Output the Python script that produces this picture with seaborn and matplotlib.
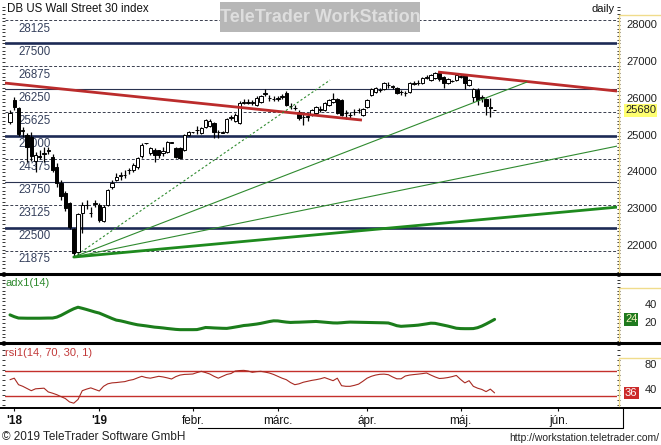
import numpy as np
import pandas as pd
import matplotlib
matplotlib.use("Agg")
import matplotlib.pyplot as plt
import matplotlib.transforms as mtransforms
from matplotlib.lines import Line2D
from matplotlib.patches import Rectangle
from matplotlib.ticker import MultipleLocator, FixedLocator
import seaborn as sns

# daily candles of the CFD (weekdays, closed on Christmas and New Year)
dates = pd.bdate_range("2018-11-30", "2019-05-13", freq="C", holidays=["2018-12-25", "2019-01-01"])
future = pd.bdate_range("2019-05-14", "2019-06-30")

opens = [25365, 25960, 25745, 25120, 25010, 24950, 24300, 24450, 24500, 24580,
         24410, 24150, 23700, 23430, 23160, 22460, 21850, 22890, 23100, 22900,
         23150, 23110, 22680, 23110, 23600, 23800, 23900, 23920, 24050, 24060,
         24140, 24440, 24790, 24520, 24600, 24600, 24520, 24550, 24810, 24660,
         24660, 24600, 25010, 25090, 25150, 25070, 25230, 25250, 25340, 25090,
         25080, 25090, 25480, 25400, 25340, 25880, 25890, 25880, 25830, 25900,
         26140, 26010, 25980, 26000, 26040, 26150, 25790, 25760, 25640, 25510,
         25510, 25555, 25610, 25700, 25690, 25830, 25900, 25990, 25960, 25600,
         25560, 25630, 25680, 25560, 25770, 26100, 26180, 26230, 26260, 26360,
         26320, 26290, 26170, 26150, 26180, 26410, 26420, 26420, 26570, 26500,
         26560, 26700, 26590, 26420, 26480, 26500, 26600, 26640, 26370, 26040,
         26230, 26030, 25990, 25750, 25690]
highs = [25700, 26040, 25780, 25220, 25080, 25100, 24550, 24600, 24700, 24700,
         24500, 24250, 23800, 23500, 23200, 22500, 22900, 23200, 23250, 23050,
         23250, 23180, 23100, 23560, 23780, 23990, 24000, 24050, 24120, 24250,
         24420, 24790, 24800, 24700, 24650, 24620, 24680, 24850, 24820, 24700,
         24680, 25050, 25120, 25100, 25250, 25240, 25460, 25450, 25360, 25150,
         25120, 25480, 25560, 25600, 25950, 25980, 25980, 25960, 26060, 26100,
         26250, 26100, 26060, 26080, 26120, 26200, 25880, 25820, 25680, 25580,
         25600, 25720, 25800, 25800, 25900, 26000, 26150, 26030, 26000, 25680,
         25640, 25720, 25760, 25760, 26000, 26290, 26320, 26300, 26460, 26450,
         26380, 26330, 26240, 26220, 26450, 26480, 26500, 26590, 26640, 26660,
         26730, 26730, 26620, 26560, 26510, 26660, 26680, 26660, 26530, 26300,
         26280, 26100, 26020, 26020, 25700]
lows = [25300, 25700, 25000, 24950, 24280, 24300, 24000, 24350, 24280, 24500,
        24000, 23600, 23250, 22950, 22450, 21700, 21750, 22350, 23000, 22800,
        23050, 22650, 22640, 23080, 23560, 23760, 23800, 23850, 23950, 24020,
        24100, 24400, 24780, 24480, 24280, 24400, 24450, 24520, 24800, 24380,
        24350, 24580, 24990, 25080, 25050, 25050, 25200, 25230, 24930, 24930,
        25060, 25060, 25430, 25380, 25300, 25850, 25850, 25830, 25800, 25880,
        26080, 25950, 25930, 25950, 25980, 25800, 25720, 25680, 25420, 25280,
        25400, 25520, 25580, 25640, 25660, 25800, 25880, 25580, 25520, 25450,
        25480, 25560, 25620, 25530, 25740, 26080, 26150, 26180, 26240, 26300,
        26250, 26120, 26100, 26060, 26160, 26360, 26380, 26400, 26530, 26480,
        26540, 26480, 26300, 26400, 26460, 26480, 26550, 26250, 26340, 25900,
        25830, 25900, 25555, 25500, 25680]
closes = [25610, 25780, 25040, 25160, 24690, 24450, 24470, 24410, 24530, 24610,
          24060, 23700, 23350, 23030, 22510, 21810, 22880, 23110, 23120, 22890,
          23160, 22700, 23060, 23520, 23710, 23880, 23920, 23930, 24060, 24200,
          24390, 24740, 24790, 24660, 24470, 24470, 24580, 24820, 24810, 24410,
          24390, 25010, 25090, 25090, 25160, 25200, 25420, 25400, 25090, 25100,
          25090, 25450, 25500, 25560, 25880, 25900, 25910, 25900, 26020, 26070,
          26150, 26020, 25990, 26020, 26060, 25830, 25800, 25745, 25475, 25500,
          25520, 25690, 25770, 25720, 25880, 25960, 25980, 25610, 25555, 25610,
          25555, 25640, 25690, 25720, 25960, 26260, 26290, 26240, 26420, 26370,
          26330, 26150, 26180, 26160, 26420, 26420, 26430, 26560, 26580, 26640,
          26700, 26530, 26420, 26530, 26490, 26640, 26610, 26420, 26500, 26260,
          25960, 26040, 25800, 25760, 25680]

adx = [29.0, 27.0, 25.5, 25.4, 25.3, 25.3, 25.3, 25.3, 25.4, 25.5,
       25.5, 26.5, 28.5, 31.0, 33.5, 35.8, 37.5, 36.3, 35.0, 33.6,
       32.2, 31.0, 29.0, 27.0, 25.0, 23.2, 22.4, 21.3, 20.1, 19.0,
       18.0, 17.4, 16.8, 16.1, 15.4, 15.0, 14.5, 13.9, 13.4, 12.9,
       12.6, 12.6, 12.6, 12.6, 12.7, 13.8, 15.0, 14.8, 14.5, 14.3,
       14.1, 14.0, 14.7, 15.5, 16.3, 17.2, 17.6, 18.2, 18.8, 19.6,
       20.6, 21.6, 22.4, 22.3, 21.6, 21.0, 20.6, 20.8, 20.9, 21.1,
       21.3, 21.5, 21.7, 21.3, 20.9, 20.5, 20.1, 20.0, 20.3, 20.7,
       21.0, 20.9, 20.8, 20.7, 20.6, 20.5, 20.4, 20.3, 20.2, 20.0,
       18.6, 17.0, 16.3, 16.6, 16.9, 17.2, 17.6, 18.3, 19.0, 19.8,
       19.6, 18.6, 17.6, 16.6, 15.4, 14.2, 13.8, 13.7, 13.7, 13.8,
       14.8, 16.6, 18.9, 21.4, 24.0]
rsi = [56.6, 59.0, 48.6, 46.0, 42.5, 39.0, 42.0, 42.5, 43.0, 37.0,
       35.0, 32.6, 29.5, 26.5, 21.0, 19.0, 25.0, 39.0, 41.5, 43.5,
       41.0, 38.5, 46.0, 50.0, 51.5, 52.0, 52.8, 53.5, 55.5, 56.8,
       59.5, 62.0, 60.0, 59.0, 60.5, 62.0, 61.0, 59.5, 57.7, 61.5,
       64.0, 65.0, 65.3, 65.7, 68.0, 70.0, 68.0, 65.7, 62.0, 59.0,
       62.0, 65.0, 66.5, 70.5, 71.2, 71.5, 70.5, 68.4, 69.5, 70.0,
       68.8, 67.3, 65.0, 62.0, 59.0, 56.6, 52.0, 48.6, 50.0, 52.5,
       54.0, 55.5, 56.6, 58.0, 60.0, 57.5, 55.0, 59.0, 47.0, 46.0,
       46.0, 47.5, 49.5, 54.0, 59.0, 62.0, 64.0, 65.2, 65.5, 64.6,
       61.0, 58.0, 58.0, 62.5, 64.0, 64.8, 65.5, 66.3, 67.3, 64.0,
       61.0, 58.5, 59.0, 60.0, 61.5, 63.4, 57.0, 51.5, 55.0, 46.0,
       43.0, 41.0, 37.5, 41.5, 35.5]

# horizontal levels drawn on the price panel
levels = [21875, 22500, 23125, 23750, 24375, 25000, 25625, 26250, 26875, 27500, 28125]
level_kind = ["dash", "thick", "dash", "thin", "dash", "thick", "dash", "thin", "dash", "thick", "dash"]
price_ticks = [22000, 23000, 24000, 25000, 26000, 27000, 28000]
last_price = 25680

# trend lines: start/end in (candle number, price)
red_x0 = [-1.2, 100.7]
red_y0 = [26424, 26723]
red_x1 = [82.8, 142.8]
red_y1 = [25419, 26207]
fan_x0 = 15
fan_y0 = 21700
fan_x1 = [75.3, 121.6, 142.8, 142.8]
fan_y1 = [26506, 26451, 24712, 23055]
fan_style = ["dotted", "thin", "thin", "thick"]

month_labels = ["'18", "'19", "febr.", "márc.", "ápr.", "máj.", "jún."]

sns.set_style("white")
plt.rcParams["font.family"] = ["Liberation Sans", "DejaVu Sans"]

W, H = 661, 445
fig = plt.figure(figsize=(W / 100, H / 100), dpi=100)
fig.patch.set_facecolor("white")


def box(x0, y0, x1, y1):
    return [x0 / W, 1 - y1 / H, (x1 - x0) / W, (y1 - y0) / H]


def fy(y):
    return 1 - y / H


ax = fig.add_axes(box(5, 3, 617, 272))
ax_adx = fig.add_axes(box(5, 275, 617, 341), sharex=ax)
ax_rsi = fig.add_axes(box(5, 344, 617, 407), sharex=ax)

x = np.arange(len(dates))
o = np.array(opens)
c = np.array(closes)

# candles
ax.vlines(x, lows, highs, color="black", lw=0.9, zorder=4)
body = np.maximum(np.abs(c - o), 12)
ax.bar(x, body, bottom=np.minimum(o, c), width=0.8,
       color=np.where(c >= o, "white", "black"), edgecolor="black", linewidth=0.7, zorder=5)

# levels
navy = "#1d2a55"
for lvl, kind in zip(levels, level_kind):
    if kind == "thick":
        ax.axhline(lvl, color=navy, lw=1.9, zorder=2)
    elif kind == "thin":
        ax.axhline(lvl, color="#2a3350", lw=0.8, zorder=2)
    else:
        ax.axhline(lvl, color="#3a3f4f", lw=0.7, ls=(0, (3, 2)), zorder=2)
    ax.annotate(str(lvl), xy=((18 - 5) / 612, lvl),
                xycoords=mtransforms.blended_transform_factory(ax.transAxes, ax.transData),
                xytext=(0, -6), textcoords="offset points", va="center", ha="left",
                fontsize=8.3, color="#35405c", zorder=3)

# trend lines
for a, b, cc, d in zip(red_x0, red_y0, red_x1, red_y1):
    ax.plot([a, cc], [b, d], color="#bb2c2c", lw=2.0, zorder=6, solid_capstyle="butt")
for ex, ey, st in zip(fan_x1, fan_y1, fan_style):
    if st == "thick":
        ax.plot([fan_x0, ex], [fan_y0, ey], color="#1e8a1e", lw=2.0, zorder=6)
    elif st == "thin":
        ax.plot([fan_x0, ex], [fan_y0, ey], color="#2f8a2f", lw=0.8, zorder=6)
    else:
        ax.plot([fan_x0, ex], [fan_y0, ey], color="#2f8a2f", lw=0.8, ls=(0, (2, 2)), zorder=6)

ax.set_xlim(-1.18, 142.8)
ax.set_ylim(21294, 28598)

# indicators
sns.lineplot(x=x, y=adx, ax=ax_adx, color="#1b7d1b", linewidth=2.2, legend=False)
ax_adx.set_ylim(0, 73.3)
sns.lineplot(x=x, y=rsi, ax=ax_rsi, color="#a82a22", linewidth=0.8, legend=False)
for lvl in (30, 70):
    ax_rsi.axhline(lvl, color="#c4302c", lw=1.0, zorder=1)
ax_rsi.set_ylim(12.9, 113.7)

blend = lambda a: mtransforms.blended_transform_factory(a.transAxes, a.transData)
xr = (657 - 5) / 612
for v in price_ticks:
    ax.text(xr, v, str(v), transform=blend(ax), ha="right", va="center", fontsize=8, color="#222222")
ax.text((625 - 5) / 612, last_price, str(last_price), transform=blend(ax), ha="left", va="center",
        fontsize=8, color="#222222", zorder=10,
        bbox=dict(boxstyle="square,pad=0.12", fc="#ffff70", ec="none"))
for v in (20, 40):
    ax_adx.text(xr, v, str(v), transform=blend(ax_adx), ha="right", va="center", fontsize=8, color="#222222")
ax_adx.text((625 - 5) / 612, adx[-1], f"{adx[-1]:.0f}", transform=blend(ax_adx), ha="left", va="center",
            fontsize=8, color="#f4f4c0", bbox=dict(boxstyle="square,pad=0.1", fc="#1f7a1f", ec="none"))
for v in (40, 80):
    ax_rsi.text(xr, v, str(v), transform=blend(ax_rsi), ha="right", va="center", fontsize=8, color="#222222")
ax_rsi.text((625 - 5) / 612, rsi[-1], f"{rsi[-1]:.0f}", transform=blend(ax_rsi), ha="left", va="center",
            fontsize=8, color="white", bbox=dict(boxstyle="square,pad=0.1", fc="#cc2a2a", ec="none"))

# ticks / spines
for a, minor in ((ax, 100), (ax_adx, 4), (ax_rsi, 8)):
    for s in a.spines.values():
        s.set_visible(False)
    a.set_xlabel("")
    a.set_ylabel("")
    a.set_facecolor("white")
    a.yaxis.set_major_locator(FixedLocator([]))
    a.yaxis.set_minor_locator(MultipleLocator(minor))
    a.tick_params(axis="y", which="minor", left=True, right=True, length=2.5, width=0.7,
                  direction="out", color="#333333")
    a.tick_params(axis="y", labelleft=False, labelright=False)

all_days = dates.append(future)
month_pos = [i for i in range(1, len(all_days)) if all_days[i].month != all_days[i - 1].month]
ax.tick_params(axis="x", bottom=False, labelbottom=False)
ax_adx.tick_params(axis="x", bottom=False, labelbottom=False)
ax_rsi.set_xticks(month_pos)
ax_rsi.set_xticklabels(month_labels)
ax_rsi.tick_params(axis="x", bottom=True, length=3, width=0.8, direction="out", pad=3,
                   labelsize=8.5, colors="#111111")
for t in ax_rsi.get_xticklabels():
    if t.get_text().startswith("'"):
        t.set_fontweight("bold")

# frame lines of the terminal window
cream = "#f0dc8c"
frame = [
    ([0, 1], [fy(273.5)] * 2, "black", 2.2),
    ([0, 1], [fy(342.5)] * 2, "black", 2.2),
    ([0, 1], [fy(407.5)] * 2, "black", 1.4),
    ([198 / W, 623 / W], [fy(428)] * 2, "black", 0.8),
    ([623 / W] * 2, [fy(407.5), fy(428)], "black", 0.8),
    ([619 / W] * 2, [fy(15), fy(272)], cream, 1.0),
    ([619 / W, 1], [fy(15)] * 2, cream, 1.0),
    ([619 / W] * 2, [fy(288), fy(341)], cream, 1.0),
    ([619 / W, 1], [fy(288)] * 2, cream, 1.0),
    ([619 / W] * 2, [fy(358), fy(406)], cream, 1.0),
    ([619 / W, 1], [fy(358)] * 2, cream, 1.0),
]
for xs, ys, col, lw in frame:
    fig.add_artist(Line2D(xs, ys, color=col, lw=lw, zorder=8))

# watermark
fig.add_artist(Rectangle((220 / W, fy(32)), 200 / W, 30 / H, facecolor="#b7b7b7",
                         edgecolor="none", zorder=9))
fig.text(320 / W, fy(17), "TeleTrader WorkStation", ha="center", va="center",
         fontsize=13, fontweight="bold", color="#dedede", zorder=10)

fig.text(7 / W, fy(9), "DB US Wall Street 30 index", ha="left", va="center", fontsize=8.3, color="#111111")
fig.text(615 / W, fy(9), "daily", ha="right", va="center", fontsize=8, color="#111111")
fig.text(6 / W, fy(283), "adx1(14)", ha="left", va="center", fontsize=8, color="#2e8a2e")
fig.text(5 / W, fy(353), "rsi1(14, 70, 30, 1)", ha="left", va="center", fontsize=8, color="#c23a3a")
fig.text(2 / W, fy(437), "\u00a9 2019 TeleTrader Software GmbH", ha="left", va="center",
         fontsize=8.5, color="#222222")
fig.text(659 / W, fy(438), "http://workstation.teletrader.com/", ha="right", va="center",
         fontsize=7.5, color="#222222")

fig.savefig("out.png", dpi=100, facecolor="white")
